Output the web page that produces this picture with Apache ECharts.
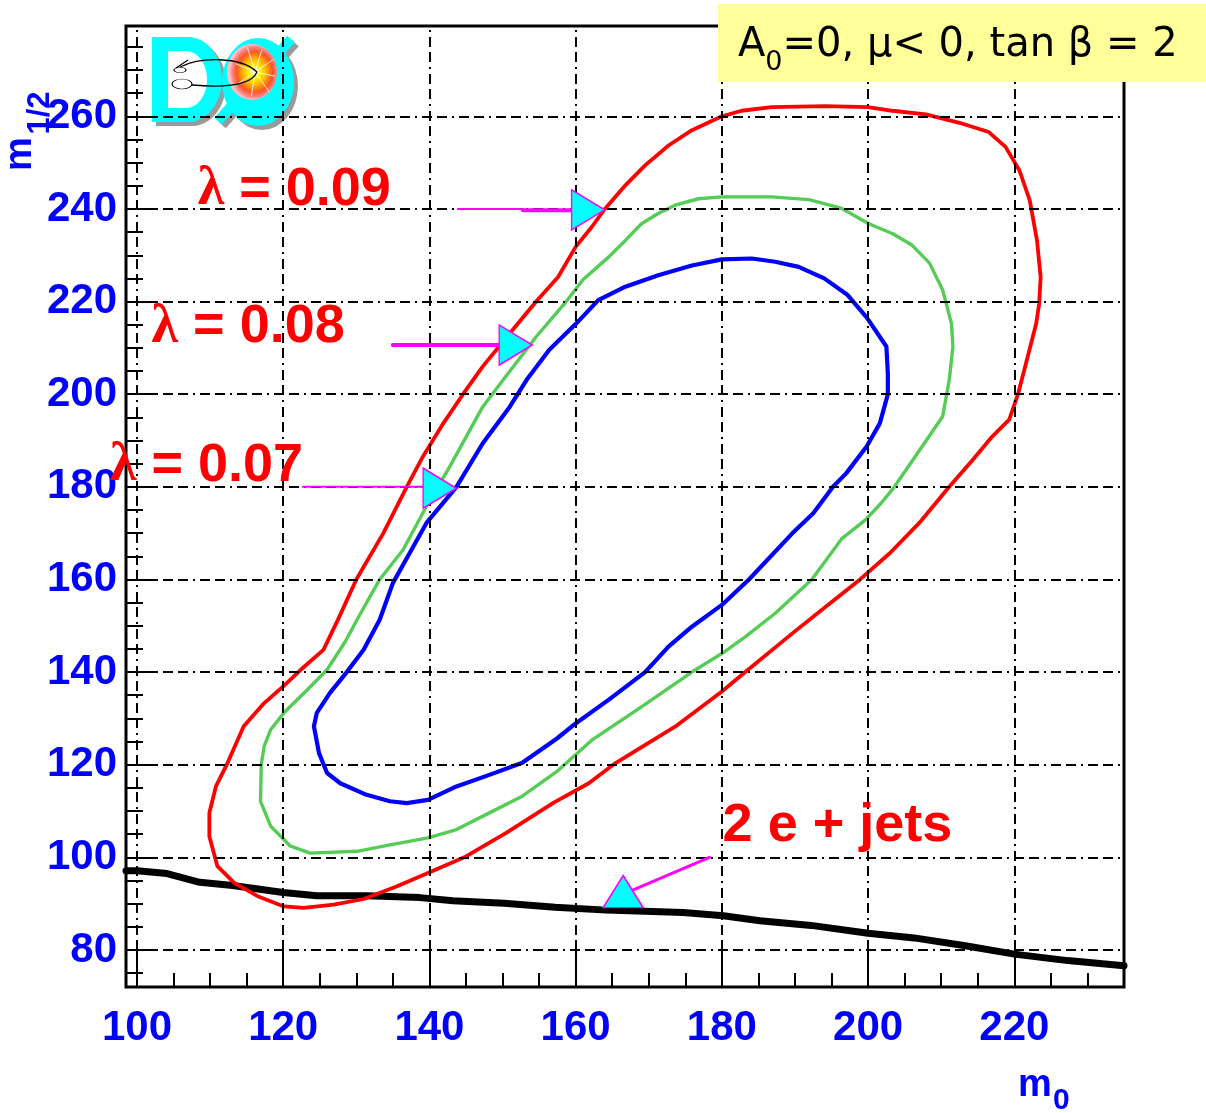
<!DOCTYPE html>
<html>
<head>
<meta charset="utf-8">
<script src="https://cdn.jsdelivr.net/npm/echarts@6/dist/echarts.min.js"></script>
<style>
  html, body { margin: 0; padding: 0; background: #ffffff; }
  #chart { width: 1206px; height: 1113px; }
</style>
</head>
<body>
<div id="chart"></div>
<script>
// ---- axis ticks (m0 horizontally, m1/2 vertically, in GeV) ----
const xMajorTicks = [100, 120, 140, 160, 180, 200, 220];
const xMinorTicks = [100, 105, 110, 115, 120, 125, 130, 135, 140, 145, 150, 155, 160, 165,
                     170, 175, 180, 185, 190, 195, 200, 205, 210, 215, 220, 225, 230];
const yMajorTicks = [80, 100, 120, 140, 160, 180, 200, 220, 240, 260];
const yMinorTicks = [75, 80, 85, 90, 95, 100, 105, 110, 115, 120, 125, 130, 135, 140, 145, 150,
                     155, 160, 165, 170, 175, 180, 185, 190, 195, 200, 205, 210, 215, 220, 225,
                     230, 235, 240, 245, 250, 255, 260, 265, 270, 275];

// ---- exclusion contours [m0, m1/2] ----
const contourLambda009 = [
  [109.9,104.5],[109.9,109.6],[110.8,115.3],[112.4,120.4],[114.6,128.3],[117.4,133.3],[120.0,136.9],
  [122.4,140.5],[125.5,144.8],[127.4,151.0],[130.0,160.0],[133.7,170.0],[136.9,180.0],[139.1,186.5],
  [141.9,193.7],[144.6,200.0],[147.3,206.0],[151.4,213.9],[154.6,220.0],[157.6,225.3],[160.0,231.8],
  [162.2,236.1],[164.0,240.0],[166.8,245.1],[169.5,249.4],[172.7,253.7],[175.9,257.0],[180.0,260.0],
  [182.7,261.2],[186.8,262.0],[194.2,262.2],[200.0,262.0],[203.3,261.2],[207.9,260.4],[212.5,258.6],
  [216.5,256.6],[218.8,253.4],[220.7,248.3],[222.1,241.9],[223.1,233.2],[223.6,225.3],[223.4,219.6],
  [223.0,215.3],[221.6,206.7],[220.5,200.0],[219.3,194.5],[217.0,190.9],[214.3,185.8],[211.1,180.0],
  [207.0,172.2],[203.0,165.7],[198.9,160.0],[194.2,154.1],[189.6,148.3],[183.2,140.0],[180.0,135.8],
  [173.6,128.2],[165.4,120.3],[161.8,116.0],[157.0,111.8],[150.5,105.3],[145.0,100.2],[139.8,96.6],
  [135.5,93.7],[131.0,91.0],[126.9,89.8],[122.8,89.1],[120.1,89.4],[116.5,91.6],[113.3,94.5],
  [111.0,98.1],[109.9,104.5]
];
const contourLambda008 = [
  [116.9,112.1],[117.0,120.1],[117.4,124.0],[118.3,127.6],[120.1,131.2],[123.3,136.2],[126.0,140.5],
  [128.5,146.6],[130.1,151.3],[133.2,160.0],[136.4,166.4],[139.6,175.8],[142.8,184.4],[147.3,197.3],
  [150.1,203.1],[154.6,212.4],[158.7,220.0],[161.0,224.7],[164.5,229.6],[166.8,233.2],[169.0,236.8],
  [171.3,239.0],[173.6,240.8],[176.8,242.2],[180.0,242.6],[186.8,242.6],[191.9,242.0],[196.4,240.1],
  [200.1,236.8],[203.3,234.7],[206.0,232.2],[208.4,228.3],[210.2,222.5],[211.4,215.3],[211.6,210.3],
  [211.1,203.1],[210.2,195.2],[208.0,190.1],[205.2,183.7],[203.6,180.0],[201.8,176.5],[199.6,172.8],
  [196.4,168.8],[192.3,160.0],[187.3,152.7],[183.2,147.6],[180.0,144.0],[175.9,140.0],[169.0,132.5],
  [162.2,125.3],[157.4,118.5],[152.7,113.2],[148.2,109.6],[143.7,106.0],[139.8,104.2],[134.6,102.7],
  [130.1,101.3],[123.7,100.9],[121.0,102.4],[118.3,106.7],[116.9,112.1]
];
const contourLambda007 = [
  [124.2,128.3],[124.6,131.2],[126.4,135.5],[128.7,140.0],[131.0,144.8],[133.2,151.3],[135.0,159.2],
  [137.3,165.7],[139.6,172.2],[143.7,180.0],[147.3,189.4],[151.0,197.3],[153.3,203.1],[156.4,209.6],
  [160.1,215.3],[163.1,220.3],[166.8,223.2],[171.3,225.7],[175.9,227.8],[180.0,229.1],[184.1,229.3],
  [187.3,228.6],[190.5,227.5],[194.0,225.0],[197.2,221.4],[199.8,216.6],[202.5,210.3],[202.7,204.5],
  [202.7,200.0],[201.6,193.7],[199.8,188.7],[197.0,182.9],[195.2,180.0],[192.5,174.3],[189.6,169.9],
  [183.7,160.0],[180.0,154.5],[175.9,149.8],[172.7,145.5],[169.5,140.0],[164.5,134.0],[160.0,128.9],
  [157.4,125.6],[152.7,120.4],[148.2,117.8],[143.7,115.3],[139.8,112.4],[136.9,111.7],[134.6,112.1],
  [131.4,113.5],[127.8,116.0],[126.0,118.2],[124.9,122.5],[124.2,128.3]
];
// 2 e + jets limit
const dielectronLimit = [
  [98.5,97.1],[100.0,97.1],[104.1,96.5],[108.6,94.6],[113.1,93.9],[120.0,92.4],[124.6,91.7],
  [131.4,91.7],[138.7,91.3],[143.2,90.6],[150.2,90.1],[157.2,89.2],[164.2,88.6],[174.7,88.1],
  [180.2,87.4],[185.2,86.3],[192.2,85.3],[200.0,83.6],[206.3,82.6],[213.3,80.9],[220.0,79.1],
  [227.3,77.7],[235.0,76.6]
];

// ---- annotation arrows ----
const shaftLambda009Thin  = [[143.9,240.0],[152.8,240.0]];
const shaftLambda009Thick = [[152.8,239.7],[159.6,239.7]];
const shaftLambda008      = [[135.0,210.6],[149.6,210.6]];
const shaftLambda007      = [[122.7,180.0],[139.1,180.0]];
const shaftDielectron     = [[178.3,100.0],[167.8,92.9]];
const arrowHeadsRight = [[161.7,239.8],[151.8,210.6],[141.4,179.7]];
const arrowHeadsUp    = [[166.5,92.6]];

const labelTexts = ['0.09', '0.08', '0.07'];

const RED = '#ff0000', GREEN = '#55cc55', BLUE = '#0000ff', MAGENTA = '#ff00ff', CYAN = '#00ffff';
const SANS = '"Liberation Sans", Arial, sans-serif';

const chart = echarts.init(document.getElementById('chart'), null, { renderer: 'canvas' });

function lineSeries(data, color, width, z) {
  return {
    type: 'line', data: data, xAxisIndex: 0, yAxisIndex: 0,
    symbol: 'none', showSymbol: false, smooth: false, z: z || 3,
    lineStyle: { color: color, width: width, cap: 'round', join: 'round' },
    emphasis: { disabled: true }, silent: true
  };
}

const gridDash = [10, 5, 10, 5, 2, 5];

const option = {
  animation: false,
  backgroundColor: '#ffffff',
  grid: {
    left: 126, right: 82, top: 26, bottom: 126,
    show: true, borderColor: '#000', borderWidth: 3, backgroundColor: '#ffffff'
  },
  xAxis: [
    {
      type: 'value', min: 98.5, max: 235, position: 'bottom',
      axisLine: { show: false }, splitLine: { show: false },
      axisTick: { show: true, inside: true, length: 38, customValues: xMajorTicks,
                  lineStyle: { color: '#000', width: 2 } },
      axisLabel: { customValues: xMajorTicks, color: BLUE, fontFamily: SANS, fontWeight: 'bold',
                   fontSize: 42, margin: 20 }
    },
    {
      type: 'value', min: 98.5, max: 235, position: 'bottom',
      axisLine: { show: false }, splitLine: { show: false }, axisLabel: { show: false },
      axisTick: { show: true, inside: true, length: 14, customValues: xMinorTicks,
                  lineStyle: { color: '#000', width: 2 } }
    }
  ],
  yAxis: [
    {
      type: 'value', min: 72, max: 279.5, position: 'left',
      axisLine: { show: false }, splitLine: { show: false },
      axisTick: { show: true, inside: true, length: 30, customValues: yMajorTicks,
                  lineStyle: { color: '#000', width: 2 } },
      axisLabel: { customValues: yMajorTicks, color: BLUE, fontFamily: SANS, fontWeight: 'bold',
                   fontSize: 42, margin: 9, padding: [8, 0, 0, 0] }
    },
    {
      type: 'value', min: 72, max: 279.5, position: 'left',
      axisLine: { show: false }, splitLine: { show: false }, axisLabel: { show: false },
      axisTick: { show: true, inside: true, length: 17, customValues: yMinorTicks,
                  lineStyle: { color: '#000', width: 2 } }
    }
  ],
  series: [
    {
      // dash-dot grid
      type: 'line', data: [[100, 80]], xAxisIndex: 0, yAxisIndex: 0, symbol: 'none',
      lineStyle: { opacity: 0 }, z: 1, silent: true,
      markLine: {
        silent: true, symbol: ['none', 'none'], label: { show: false }, animation: false,
        lineStyle: { color: '#000000', width: 2, type: gridDash },
        emphasis: { disabled: true },
        data: xMajorTicks.map(v => ({ xAxis: v })).concat(yMajorTicks.map(v => ({ yAxis: v })))
      }
    },
    lineSeries(dielectronLimit, '#000000', 7, 3),
    lineSeries(contourLambda009, RED, 3.8, 4),
    lineSeries(contourLambda008, GREEN, 3.4, 4),
    lineSeries(contourLambda007, BLUE, 4.2, 4),
    lineSeries(shaftLambda009Thin, MAGENTA, 2, 5),
    lineSeries(shaftLambda009Thick, MAGENTA, 4, 5),
    lineSeries(shaftLambda008, MAGENTA, 4, 5),
    lineSeries(shaftLambda007, MAGENTA, 2, 5),
    lineSeries(shaftDielectron, MAGENTA, 3, 5),
    {
      type: 'scatter', xAxisIndex: 0, yAxisIndex: 0, z: 6, silent: true,
      symbol: 'triangle', symbolSize: [40, 33], symbolRotate: -90,
      itemStyle: { color: CYAN, borderColor: MAGENTA, borderWidth: 1.5, opacity: 1 },
      data: arrowHeadsRight
    },
    {
      type: 'scatter', xAxisIndex: 0, yAxisIndex: 0, z: 6, silent: true,
      symbol: 'triangle', symbolSize: [40, 32],
      itemStyle: { color: CYAN, borderColor: MAGENTA, borderWidth: 1.5, opacity: 1 },
      data: arrowHeadsUp
    }
  ]
};
chart.setOption(option);

// ---- text annotations anchored in data space ----
function px(x, y) { return chart.convertToPixel({ xAxisIndex: 0, yAxisIndex: 0 }, [x, y]); }

const LABEL_FS = 54;
const lambdaRich = {
  l: { fontFamily: '"Liberation Serif", serif', fontWeight: 'bold', fontSize: LABEL_FS, fill: RED },
  t: { fontFamily: SANS, fontWeight: 'bold', fontSize: LABEL_FS, fill: RED }
};
// [left m0, baseline m1/2]
const lambdaAnchors = [[108.3, 240.0], [102.0, 210.3], [96.3, 180.4]];
const jetsAnchor = [180.1, 102.6];

const graphics = [];
lambdaAnchors.forEach((a, i) => {
  const p = px(a[0], a[1]);
  graphics.push({
    type: 'text', x: p[0], y: p[1] - 0.35 * LABEL_FS, z: 20, silent: true,
    style: { text: '{l|λ}{t| = ' + labelTexts[i] + '}', rich: lambdaRich,
             align: 'left', verticalAlign: 'middle', fill: RED }
  });
});
{
  const p = px(jetsAnchor[0], jetsAnchor[1]);
  graphics.push({
    type: 'text', x: p[0], y: p[1] - 0.35 * LABEL_FS, z: 20, silent: true,
    style: { text: '2 e + jets', fontFamily: SANS, fontWeight: 'bold', fontSize: LABEL_FS,
             fill: RED, align: 'left', verticalAlign: 'middle' }
  });
}

// axis titles
graphics.push(
  { type: 'text', x: 1018, y: 1086, z: 20, silent: true,
    style: { text: 'm', fontFamily: SANS, fontWeight: 'bold', fontSize: 38, fill: BLUE,
             align: 'left', verticalAlign: 'middle' } },
  { type: 'text', x: 1053, y: 1101, z: 20, silent: true,
    style: { text: '0', fontFamily: SANS, fontWeight: 'bold', fontSize: 30, fill: BLUE,
             align: 'left', verticalAlign: 'middle' } },
  { type: 'text', x: 21, y: 154, rotation: Math.PI / 2, z: 20, silent: true,
    style: { text: 'm', fontFamily: SANS, fontWeight: 'bold', fontSize: 38, fill: BLUE,
             align: 'center', verticalAlign: 'middle' } },
  { type: 'text', x: 40, y: 113, rotation: Math.PI / 2, z: 20, silent: true,
    style: { text: '1/2', fontFamily: SANS, fontWeight: 'bold', fontSize: 31, fill: BLUE,
             align: 'center', verticalAlign: 'middle' } }
);

// parameter box
{
  const font = '"DejaVu Sans", sans-serif';
  const ctx = document.createElement('canvas').getContext('2d');
  ctx.font = '40px "DejaVu Sans"';
  const wA = ctx.measureText('A').width;
  ctx.font = '27px "DejaVu Sans"';
  const w0 = ctx.measureText('0').width;
  const x0 = 738, midY = 46;
  graphics.push(
    { type: 'rect', shape: { x: 718, y: 4, width: 488, height: 78 }, z: 30, silent: true,
      style: { fill: '#ffff99' } },
    { type: 'text', x: x0, y: midY, z: 31, silent: true,
      style: { text: 'A', fontFamily: font, fontSize: 40, fill: '#000', align: 'left', verticalAlign: 'middle' } },
    { type: 'text', x: x0 + wA, y: midY + 17, z: 31, silent: true,
      style: { text: '0', fontFamily: font, fontSize: 27, fill: '#000', align: 'left', verticalAlign: 'middle' } },
    { type: 'text', x: x0 + wA + w0, y: midY, z: 31, silent: true,
      style: { text: '=0, μ< 0, tan β = 2', fontFamily: font, fontSize: 40, fill: '#000',
               align: 'left', verticalAlign: 'middle' } }
  );
}

// DØ logo
{
  function dShape(ox, oy, cx, cy, rx, ry, left) {
    const pts = [[left + ox, cy - ry + oy]];
    for (let k = 0; k <= 24; k++) {
      const t = -Math.PI / 2 + Math.PI * k / 24;
      pts.push([cx + rx * Math.cos(t) + ox, cy + ry * Math.sin(t) + oy]);
    }
    pts.push([left + ox, cy + ry + oy]);
    return pts;
  }
  const logo = [];
  const SH = '#9a9a9a';
  // shadows
  logo.push({ type: 'polygon', shape: { points: dShape(4, 4, 188, 79.5, 34, 42.5, 152) }, style: { fill: SH } });
  logo.push({ type: 'circle', x: 262, y: 86, scaleX: 36 / 44, scaleY: 1, shape: { cx: 0, cy: 0, r: 44 }, style: { fill: SH } });
  logo.push({ type: 'line', shape: { x1: 222, y1: 125, x2: 295, y2: 43 }, style: { stroke: SH, lineWidth: 10 } });
  // D
  logo.push({ type: 'polygon', shape: { points: dShape(0, 0, 188, 79.5, 34, 42.5, 152) }, style: { fill: CYAN } });
  logo.push({ type: 'polygon', shape: { points: dShape(0, 0, 186, 79.5, 21, 28.5, 168) }, style: { fill: '#ffffff' } });
  // slashed O
  logo.push({ type: 'line', shape: { x1: 218, y1: 121, x2: 291, y2: 39 }, style: { stroke: CYAN, lineWidth: 10 } });
  logo.push({ type: 'circle', x: 258, y: 82, scaleX: 36 / 44, scaleY: 1, shape: { cx: 0, cy: 0, r: 44 }, style: { fill: CYAN } });
  logo.push({ type: 'circle', x: 252, y: 72, scaleX: 25 / 28, scaleY: 1, shape: { cx: 0, cy: 0, r: 28 },
    style: { fill: { type: 'radial', x: 0.55, y: 0.5, r: 0.5, colorStops: [
      { offset: 0, color: '#ffffee' }, { offset: 0.25, color: '#ffee00' }, { offset: 0.5, color: '#ffaa00' },
      { offset: 0.72, color: '#ff5522' }, { offset: 0.88, color: '#ff8080' }, { offset: 1, color: '#ffc0c0' } ] } } });
  [[-70, 24], [-30, 26], [10, 24], [50, 26], [100, 24], [150, 25], [200, 24], [250, 26]].forEach(r => {
    const a = r[0] * Math.PI / 180;
    logo.push({ type: 'line', shape: { x1: 255, y1: 72, x2: 255 + r[1] * 0.85 * Math.cos(a), y2: 72 + r[1] * Math.sin(a) },
                style: { stroke: '#ffffff', lineWidth: 1, opacity: 0.85 } });
  });
  // track sketch
  logo.push({ type: 'bezierCurve', shape: { x1: 180, y1: 67, cpx1: 200, cpy1: 57, cpx2: 240, cpy2: 56, x2: 257, y2: 72 },
              style: { stroke: '#000', lineWidth: 1.3, fill: null } });
  logo.push({ type: 'bezierCurve', shape: { x1: 257, y1: 72, cpx1: 250, cpy1: 88, cpx2: 215, cpy2: 87, x2: 192, y2: 85 },
              style: { stroke: '#000', lineWidth: 1.3, fill: null } });
  logo.push({ type: 'circle', x: 182, y: 84, scaleX: 1, scaleY: 0.5, shape: { cx: 0, cy: 0, r: 10 },
              style: { stroke: '#000', lineWidth: 1.2, fill: null } });
  logo.push({ type: 'circle', x: 180, y: 70, scaleX: 1, scaleY: 0.45, shape: { cx: 0, cy: 0, r: 6 },
              style: { stroke: '#000', lineWidth: 1.2, fill: null } });
  logo.push({ type: 'line', shape: { x1: 176, y1: 68, x2: 188, y2: 60 }, style: { stroke: '#000', lineWidth: 1.2 } });
  graphics.push({ type: 'group', z: 25, silent: true, children: logo });
}

chart.setOption({ graphic: graphics });
</script>
</body>
</html>
